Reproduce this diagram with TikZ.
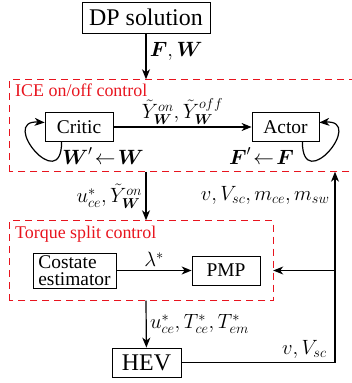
\documentclass[tikz,border=0pt]{standalone}
\usepackage{amsmath,amssymb}
\usepackage{fontspec}
\setmainfont{Liberation Serif}
\usetikzlibrary{positioning,arrows.meta,calc}
\definecolor{ctlred}{RGB}{232,20,30}
\tikzset{
    block/.style={draw,line width=0.8pt,inner sep=2pt},
    bigblock/.style={block,font=\fontsize{24}{26}\selectfont},
    group/.style={inner sep=0pt},
    groupline/.style={draw=ctlred,dash pattern=on 7bp off 5bp,line width=1bp},
    grouptitle/.style={text=ctlred,font=\fontsize{18}{20}\selectfont,inner sep=0pt,anchor=base west},
    sig/.style={-{Stealth[length=10bp,width=8bp,inset=3bp]},line width=1.2pt},
    every edge/.style={draw,sig},
}

\begin{document}
\begin{tikzpicture}[x=1bp,y=1bp,font=\fontsize{19.5}{21}\selectfont]
    \useasboundingbox (0,0) rectangle (352,383);

    % dashed control groups
    \node[group,minimum width=347bp,minimum height=92bp] (ice) at (183.5,257.5) {};
    \node[group,minimum width=263bp,minimum height=80bp] (torque) at (141.5,122.5) {};
    \draw[groupline] (ice.south west) rectangle (ice.north east);
    \draw[groupline] (torque.south west) rectangle (torque.north east);
    \node[grouptitle] (icetitle) at (15,286.3) {ICE on/off control};
    \node[grouptitle] (torquetitle) at (15,145) {Torque split control};

    % blocks
    \node[bigblock,minimum width=128bp,minimum height=31bp] (dp) at (146,365.5) {DP solution};
    \node[block,minimum width=68bp,minimum height=29bp] (critic) at (79,256) {Critic};
    \node[block,minimum width=67bp,minimum height=29bp] (actor) at (285.5,256) {Actor};
    \node[block,minimum width=83bp,minimum height=35bp,align=left,
          font=\fontsize{19.5}{17}\selectfont] (costate) at (74.5,112.5) {Costate\\estimator};
    \node[block,minimum width=68bp,minimum height=29bp] (pmp) at (226,112.5) {PMP};
    \node[bigblock,minimum width=69bp,minimum height=29bp] (hev) at (146.5,20.5) {HEV};
    \coordinate (bus) at (335,20.5);

    % updates
    \node (wupd) at (103,227) {$\boldsymbol{W}'\!\leftarrow\!\boldsymbol{W}$};
    \node (fupd) at (261.5,227) {$\boldsymbol{F}'\!\leftarrow\!\boldsymbol{F}$};
    \draw[sig] ([xshift=17bp]critic.south west) .. controls +(0,-54) and +(-46,3) .. ([yshift=4.5bp]critic.west);
    \draw[sig] ([xshift=-17bp]actor.south east) .. controls +(0,-54) and +(46,3) .. ([yshift=4.5bp]actor.east);

    \path
    (dp) edge node[right,pos=0.4] {$\boldsymbol{F},\boldsymbol{W}$} (dp |- ice.north)
    (critic) edge node[above,inner sep=2bp] {$\tilde{Y}^{on}_{\boldsymbol{W}},\tilde{Y}^{off}_{\boldsymbol{W}}$} (actor)
    (dp |- ice.south) edge node[left] {$u^*_{ce},\tilde{Y}^{on}_{\boldsymbol{W}}$} (dp |- torque.north)
    (costate) edge node[above] {$\lambda^*$} (pmp)
    (dp |- torque.south) edge node[right] {$u^*_{ce},T^*_{ce},T^*_{em}$} (hev)
    (bus |- pmp) edge (torque.east |- pmp);

    % measured signals back to the controllers
    \draw[sig] (hev) -- node[above,pos=0.8] {$v,V_{sc}$} (bus) -- (bus |- ice.south);
    \node[anchor=east] (meas) at (333,188) {$v,V_{sc},m_{ce},m_{sw}$};
\end{tikzpicture}
\end{document}
